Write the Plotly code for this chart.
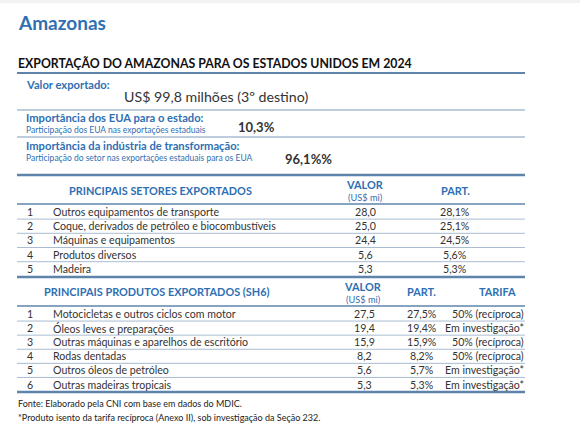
import plotly.graph_objects as go

# summary values
valor_exportado = "US$ 99,8 milhões (3º destino)"
importancia_eua = "10,3%"
importancia_industria = "96,1%%"

# sectors table
setores_rank = ["1", "2", "3", "4", "5"]
setores_nome = [
    "Outros equipamentos de transporte",
    "Coque, derivados de petróleo e biocombustíveis",
    "Máquinas e equipamentos",
    "Produtos diversos",
    "Madeira",
]
setores_valor = [28.0, 25.0, 24.4, 5.6, 5.3]
setores_part = [28.1, 25.1, 24.5, 5.6, 5.3]

# products table
produtos_rank = ["1", "2", "3", "4", "5", "6"]
produtos_nome = [
    "Motocicletas e outros ciclos com motor",
    "Óleos leves e preparações",
    "Outras máquinas e aparelhos de escritório",
    "Rodas dentadas",
    "Outros óleos de petróleo",
    "Outras madeiras tropicais",
]
produtos_valor = [27.5, 19.4, 15.9, 8.2, 5.6, 5.3]
produtos_part = [27.5, 19.4, 15.9, 8.2, 5.7, 5.3]
produtos_tarifa = [
    "50% (recíproca)", "Em investigação*", "50% (recíproca)",
    "50% (recíproca)", "Em investigação*", "Em investigação*",
]

BLUE = "#2F6FB3"
DARK = "#333333"
LINE = "#5E84AC"
THIN = "#A9BCD2"
FONT = "Lato"
ROW = 10.6

def br(v, pct=False):
    s = f"{v:.1f}".replace(".", ",")
    return s + "%" if pct else s

fig = go.Figure()
ann = []
shapes = []

def txt(x, y, t, size=10, color=DARK, bold=False, anchor="left"):
    if bold:
        t = "<b>" + t + "</b>"
    ann.append(dict(x=x, y=y, text=t, xref="x", yref="y", showarrow=False,
                    xanchor=anchor, yanchor="middle",
                    font=dict(family=FONT, size=size, color=color)))

def hline(y, w=1, color=THIN):
    shapes.append(dict(type="line", xref="x", yref="y", x0=17, x1=525, y0=y, y1=y,
                       line=dict(color=color, width=w)))

shapes.append(dict(type="rect", xref="x", yref="y", x0=0, x1=580, y0=0, y1=3,
                   fillcolor="#F2F2F2", line=dict(width=0)))
txt(16, 22, "Amazonas", 19, BLUE, True)
txt(16, 63, "EXPORTAÇÃO DO AMAZONAS PARA OS ESTADOS UNIDOS EM 2024", 12.3, "#111111", True)
hline(73, 2, LINE)

txt(24, 84, "Valor exportado:", 11.2, BLUE, True)
txt(122, 96, valor_exportado, 14.2, DARK)
hline(110, 1.5, THIN)
txt(24, 117, "Importância dos EUA para o estado:", 11.2, BLUE, True)
txt(24, 130, "Participação dos EUA nas exportações estaduais", 8.5, BLUE)
txt(236, 127, importancia_eua, 13, DARK, True)
hline(137, 1.5, THIN)
txt(24, 145, "Importância da indústria de transformação:", 11.2, BLUE, True)
txt(24, 158, "Participação do setor nas exportações estaduais para os EUA", 8.5, BLUE)
txt(283, 159, importancia_industria, 13, DARK, True)
hline(175, 2.5, LINE)

# sectors header
txt(160, 190, "PRINCIPAIS SETORES EXPORTADOS", 10.9, BLUE, True, "center")
txt(365, 184, "VALOR", 10.9, BLUE, True, "center")
txt(365, 197, "(US$ mi)", 9.2, BLUE, False, "center")
txt(455, 190, "PART.", 10.9, BLUE, True, "center")
hline(204, 1.5, LINE)

y0, dy = 212, 14.2
for i in range(len(setores_nome)):
    y = y0 + i * dy
    txt(30, y, setores_rank[i], ROW, DARK, False, "center")
    txt(51, y, setores_nome[i], ROW)
    txt(365, y, br(setores_valor[i]), ROW, DARK, False, "center")
    txt(455, y, br(setores_part[i], True), ROW, DARK, False, "center")
    if i < len(setores_nome) - 1:
        hline(y + dy / 2, 1, THIN)
hline(277, 2.5, LINE)

# products header
txt(157, 291, "PRINCIPAIS PRODUTOS EXPORTADOS (SH6)", 10.9, BLUE, True, "center")
txt(363, 286, "VALOR", 10.9, BLUE, True, "center")
txt(363, 299, "(US$ mi)", 9.2, BLUE, False, "center")
txt(421, 291, "PART.", 10.9, BLUE, True, "center")
txt(497, 291, "TARIFA", 10.9, BLUE, True, "center")
hline(306, 1.5, LINE)

y0, dy = 314, 14.1
for i in range(len(produtos_nome)):
    y = y0 + i * dy
    txt(30, y, produtos_rank[i], ROW, DARK, False, "center")
    txt(51, y, produtos_nome[i], ROW)
    txt(364, y, br(produtos_valor[i]), ROW, DARK, False, "center")
    txt(422, y, br(produtos_part[i], True), ROW, DARK, False, "center")
    txt(526, y, produtos_tarifa[i], ROW, DARK, False, "right")
    if i < len(produtos_nome) - 1:
        hline(y + dy / 2, 1, THIN)
hline(392, 2.5, LINE)

txt(16, 403, "Fonte: Elaborado pela CNI com base em dados do MDIC.", 9, "#222222")
txt(16, 417, "*Produto isento da tarifa recíproca (Anexo II), sob investigação da Seção 232.", 9, "#222222")

fig.update_layout(
    width=580, height=427,
    margin=dict(l=0, r=0, t=0, b=0),
    plot_bgcolor="white", paper_bgcolor="white",
    xaxis=dict(range=[0, 580], visible=False, fixedrange=True),
    yaxis=dict(range=[427, 0], visible=False, fixedrange=True),
    annotations=ann, shapes=shapes, showlegend=False,
)
fig.write_html("out.html", config={"displayModeBar": False})

# drop the browser's default body margin so the figure sits at the page corner
with open("out.html", encoding="utf-8") as f:
    page = f.read()
page = page.replace("<body>", '<body style="margin:0;overflow:hidden">', 1)
with open("out.html", "w", encoding="utf-8") as f:
    f.write(page)
